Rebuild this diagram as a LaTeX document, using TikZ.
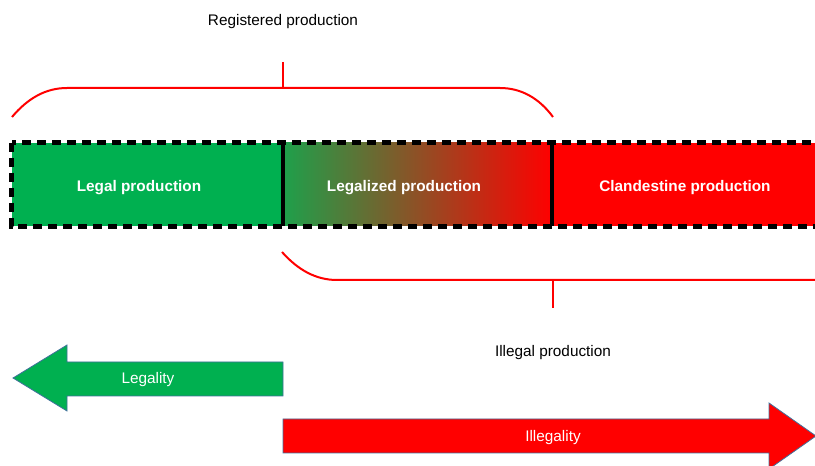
\documentclass[tikz,border=0pt]{standalone}
\usepackage{fontspec}
\setmainfont{Liberation Sans}
\usetikzlibrary{positioning}

\definecolor{legalgreen}{RGB}{0,176,80}
\definecolor{mixgreen}{RGB}{30,160,75}
\definecolor{illegalred}{RGB}{255,0,0}
\definecolor{arrowedge}{RGB}{65,113,156}

\begin{document}
\begin{tikzpicture}[
    x=0.75pt, y=-0.75pt,
    font=\fontsize{11.5}{14}\selectfont,
    segment/.style={rectangle, inner sep=0pt, minimum height=62.25pt},
    seglabel/.style={text=white, font=\fontsize{11.5}{14}\selectfont\bfseries},
    brace/.style={draw=illegalred, line width=1.5pt},
    border/.style={draw=black, line width=3.6pt, dash pattern=on 6.75pt off 4.5pt},
    divider/.style={draw=black, line width=3pt},
    bigarrow/.style={draw=arrowedge, line width=0.6pt},
    arrowlabel/.style={text=white}
]
\clip (0,0) rectangle (815,466);

% --- Barra de produccion ---
\node[segment, fill=legalgreen, minimum width=203.25pt] (legal) at (147.5,184.5) {};
\node[segment, left color=mixgreen, right color=illegalred, minimum width=201.75pt] (legalized) at (417.5,184.5) {};
\node[segment, fill=illegalred, minimum width=208.5pt] (clandestine) at (691,184.5) {};

\draw[border] (legal.north west) rectangle (clandestine.south east);
\draw[divider] (legal.north east) -- (legal.south east);
\draw[divider] (legalized.north east) -- (legalized.south east);

\node[seglabel] (legaltxt) at (139,188) {Legal production};
\node[seglabel] (legalizedtxt) at (404,188) {Legalized production};
\node[seglabel] (clandestinetxt) at (685,188) {Clandestine production};

% --- Llaves ---
\node (registered) at (283,22) {Registered production};
\coordinate (topbrace) at (283,88);
\coordinate (toptick) at (283,62);
\draw[brace] (12,117) .. controls (28,98) and (46,88) .. (67,88) -- (500,88)
    .. controls (521,88) and (539,98) .. (553,117);
\draw[brace] (toptick) -- (topbrace);

\node (illegalprod) at (553,353) {Illegal production};
\coordinate (botbrace) at (553,280);
\coordinate (bottick) at (553,308);
\draw[brace] (282,252) .. controls (298,270) and (316,280) .. (337,280) -- (830,280);
\draw[brace] (botbrace) -- (bottick);

% --- Flechas ---
\draw[bigarrow, fill=legalgreen] (283,362) -- (67,362) -- (67,345) -- (13,378)
    -- (67,411) -- (67,396) -- (283,396) -- cycle;
\node[arrowlabel] (legality) at (148,380) {Legality};

\draw[bigarrow, fill=illegalred] (283,419) -- (769,419) -- (769,403) -- (816,436)
    -- (769,469) -- (769,453) -- (283,453) -- cycle;
\node[arrowlabel] (illegality) at (553,438) {Illegality};
\end{tikzpicture}
\end{document}
